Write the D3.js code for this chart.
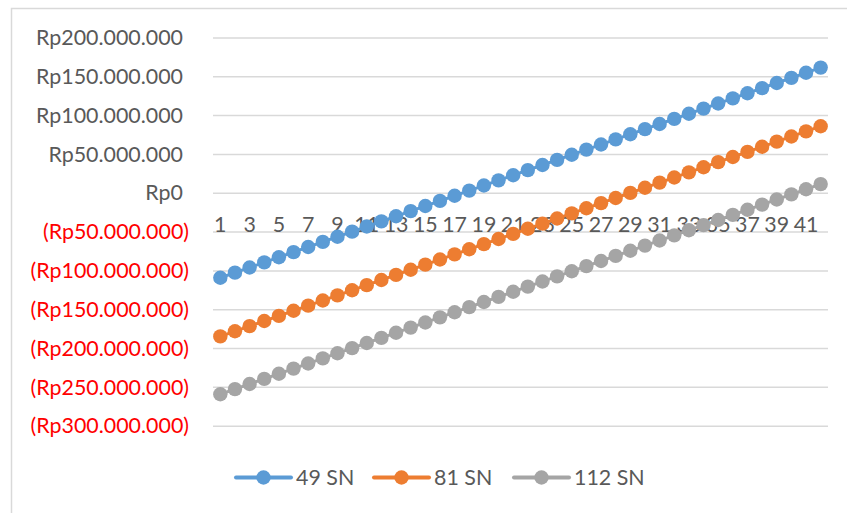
<!DOCTYPE html>
<html>
<head>
<meta charset="utf-8">
<script src="https://cdn.jsdelivr.net/npm/d3@7/dist/d3.min.js"></script>
<style>
  html, body { margin: 0; padding: 0; background: #fff; }
  svg { display: block; }
  text { font-family: Lato, "Open Sans", sans-serif; }
</style>
</head>
<body>
<svg id="chart" width="847" height="513"></svg>
<script>
// Periods 1..42
const periods = d3.range(1, 43);

// Cumulative balance per period, in millions of rupiah
const sn49 = [-109.5, -102.9, -96.3, -89.7, -83.1, -76.5, -69.9, -63.3, -56.7, -50.1,
  -43.5, -36.9, -30.3, -23.7, -17.1, -10.5, -3.9, 2.7, 9.3, 15.9,
  22.5, 29.1, 35.7, 42.3, 48.9, 55.5, 62.1, 68.7, 75.3, 81.9,
  88.5, 95.1, 101.7, 108.3, 114.9, 121.5, 128.1, 134.7, 141.3, 147.9,
  154.5, 161.1];
const sn81 = [-185, -178.4, -171.8, -165.2, -158.6, -152, -145.4, -138.8, -132.2, -125.6,
  -119, -112.4, -105.8, -99.2, -92.6, -86, -79.4, -72.8, -66.2, -59.6,
  -53, -46.4, -39.8, -33.2, -26.6, -20, -13.4, -6.8, -0.2, 6.4,
  13, 19.6, 26.2, 32.8, 39.4, 46, 52.6, 59.2, 65.8, 72.4,
  79, 85.6];
const sn112 = [-259.5, -252.9, -246.3, -239.7, -233.1, -226.5, -219.9, -213.3, -206.7, -200.1,
  -193.5, -186.9, -180.3, -173.7, -167.1, -160.5, -153.9, -147.3, -140.7, -134.1,
  -127.5, -120.9, -114.3, -107.7, -101.1, -94.5, -87.9, -81.3, -74.7, -68.1,
  -61.5, -54.9, -48.3, -41.7, -35.1, -28.5, -21.9, -15.3, -8.7, -2.1,
  4.5, 11.1];

const seriesNames = ["49 SN", "81 SN", "112 SN"];
const seriesColors = ["#5b9bd5", "#ed7d31", "#a5a5a5"];
const yTicks = [200, 150, 100, 50, 0, -50, -100, -150, -200, -250, -300];

const series = [sn49, sn81, sn112].map((vals, i) => ({
  name: seriesNames[i], color: seriesColors[i], values: vals
}));

const svg = d3.select("#chart");
const FS = 21.4;

// chart area border (top and left edges visible)
svg.append("rect")
  .attr("x", 11.5).attr("y", 8.5)
  .attr("width", 900).attr("height", 600)
  .attr("fill", "none").attr("stroke", "#d9d9d9").attr("stroke-width", 1.5);

const plot = { left: 213, right: 828, top: 37.4, bottom: 425.7 };

const x = d3.scaleBand().domain(periods).range([plot.left, plot.right]);
const y = d3.scaleLinear().domain([-300, 200]).range([plot.bottom, plot.top]);

// rupiah formatting with dots as thousands separators
const idr = d3.formatLocale({ decimal: ",", thousands: ".", grouping: [3], currency: ["Rp", ""] });
const fmt = idr.format(",.0f");
function label(v) {
  const s = "Rp" + fmt(Math.abs(v) * 1e6);
  return v < 0 ? "(" + s + ")" : s;
}

// horizontal gridlines
const yAxis = d3.axisLeft(y).tickValues(yTicks).tickSize(-(plot.right - plot.left)).tickFormat("");
const gGrid = svg.append("g").attr("transform", `translate(${plot.left},0)`).call(yAxis);
gGrid.select(".domain").remove();
gGrid.selectAll(".tick line").attr("stroke", "#d9d9d9").attr("stroke-width", 1.5);

// value labels
svg.append("g").selectAll("text").data(yTicks).join("text")
  .attr("x", d => d < 0 ? 189 : 183)
  .attr("y", d => y(d))
  .attr("dy", "0.36em")
  .attr("text-anchor", "end")
  .attr("font-size", FS)
  .attr("fill", d => d < 0 ? "#ff0000" : "#595959")
  .text(label);

// category labels beneath the zero line, every other period
const xAxis = d3.axisBottom(x).tickValues(periods.filter(p => p % 2 === 1)).tickSize(0).tickPadding(0);
const gX = svg.append("g").attr("transform", `translate(0,${y(0)})`).call(xAxis);
gX.select(".domain").remove();
gX.selectAll(".tick text")
  .attr("y", 0).attr("dy", "1.82em")
  .attr("font-size", FS)
  .attr("font-family", "Lato, 'Open Sans', sans-serif")
  .attr("fill", "#595959");

// series lines and markers
const line = d3.line()
  .x((d, i) => x(periods[i]) + x.bandwidth() / 2)
  .y(d => y(d));

const gS = svg.append("g").selectAll("g").data(series).join("g");
gS.append("path")
  .attr("d", d => line(d.values))
  .attr("fill", "none").attr("stroke", d => d.color).attr("stroke-width", 3);
gS.each(function (s) {
  d3.select(this).selectAll("circle").data(s.values).join("circle")
    .attr("cx", (d, i) => x(periods[i]) + x.bandwidth() / 2)
    .attr("cy", d => y(d))
    .attr("r", 7.2)
    .attr("fill", s.color);
});

// legend
const legendX = [236, 374, 514];
const leg = svg.append("g").selectAll("g").data(series).join("g")
  .attr("transform", (d, i) => `translate(${legendX[i]},477.5)`);
leg.append("line").attr("x1", 0).attr("x2", 55).attr("y1", 0).attr("y2", 0)
  .attr("stroke", d => d.color).attr("stroke-width", 4).attr("stroke-linecap", "round");
leg.append("circle").attr("cx", 27.5).attr("cy", 0).attr("r", 7.2).attr("fill", d => d.color);
leg.append("text").attr("x", 60).attr("y", 0).attr("dy", "0.36em")
  .attr("font-size", FS).attr("fill", "#595959").text(d => d.name);
</script>
</body>
</html>
